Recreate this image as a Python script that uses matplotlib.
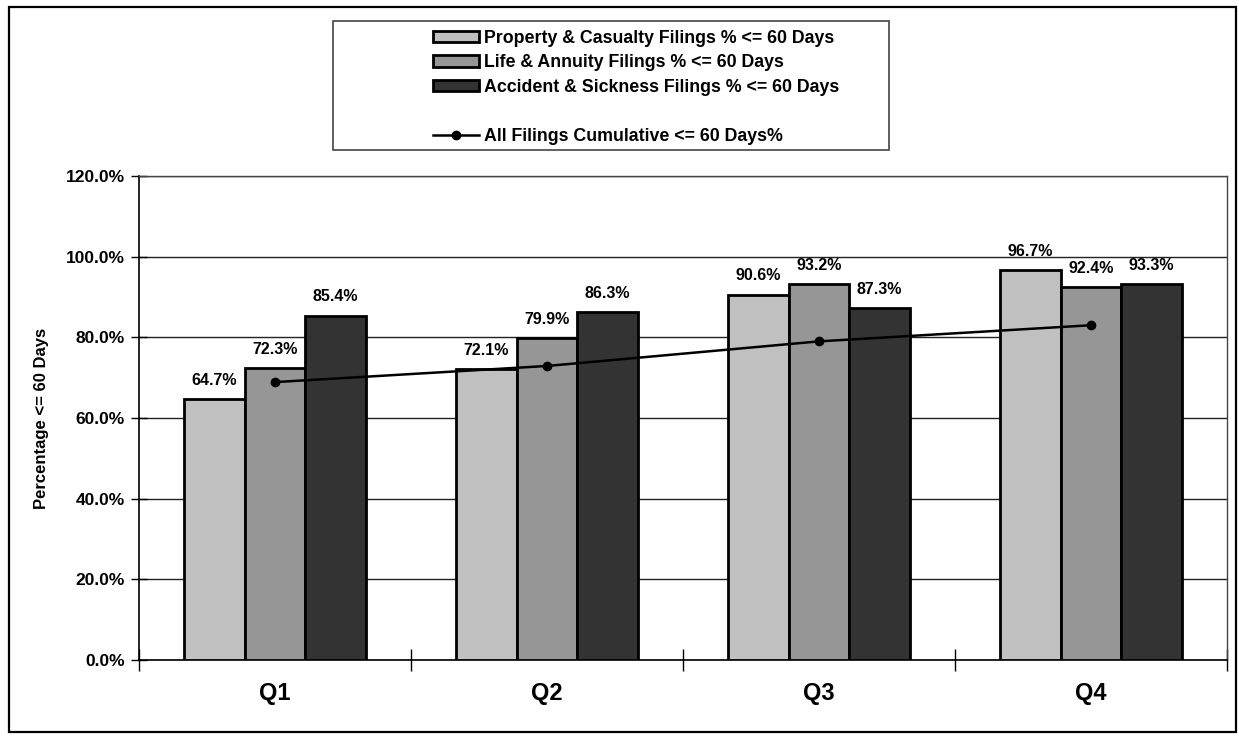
#!/usr/bin/env python3
"""Quarterly filings processed within 60 days, by line of business."""

import matplotlib
matplotlib.use("Agg")
import matplotlib.pyplot as plt
import numpy as np
from matplotlib.lines import Line2D
from matplotlib.patches import Patch, Rectangle


quarters = ["Q1", "Q2", "Q3", "Q4"]
property_casualty = [64.7, 72.1, 90.6, 96.7]
life_annuity = [72.3, 79.9, 93.2, 92.4]
accident_sickness = [85.4, 86.3, 87.3, 93.3]
all_cumulative = [68.9, 72.9, 79.0, 83.0]

series_labels = [
    "Property & Casualty Filings % <= 60 Days",
    "Life & Annuity Filings % <= 60 Days",
    "Accident & Sickness Filings % <= 60 Days",
]
line_label = "All Filings Cumulative <= 60 Days%"
y_ticks = [0, 20, 40, 60, 80, 100, 120]

plt.rcParams["font.family"] = ["Liberation Sans", "DejaVu Sans"]
plt.rcParams["font.weight"] = "bold"

W, H = 1239, 738
fig = plt.figure(figsize=(W / 100, H / 100), dpi=100)
ax = fig.add_axes([139 / W, 1 - 660 / H, (1227 - 139) / W, (660 - 176) / H])

# outer chart border
fig.patches.append(Rectangle((9 / W, 6 / H), (1236 - 9) / W, (731 - 6) / H,
                             transform=fig.transFigure, fill=False,
                             lw=1.6, ec="black"))

x = np.arange(len(quarters))
width = 1 / 4.5
colors = ["#c0c0c0", "#969696", "#333333"]
for offset, values, color, label in zip(
        (-1, 0, 1), (property_casualty, life_annuity, accident_sickness),
        colors, series_labels):
    bars = ax.bar(x + offset * width, values, width, color=color,
                  edgecolor="black", linewidth=2.0, label=label, zorder=3)
    for bar, value in zip(bars, values):
        ax.annotate(f"{value:.1f}%",
                    (bar.get_x() + bar.get_width() / 2, bar.get_height()),
                    xytext=(0, 8), textcoords="offset points",
                    ha="center", va="bottom", fontsize=11.5, weight="bold")

ax.plot(x, all_cumulative, color="black", lw=1.8, marker="o", ms=6,
        zorder=4)

ax.set_xlim(-0.5, len(quarters) - 0.5)
ax.set_ylim(0, 120)
ax.set_yticks(y_ticks)
ax.set_yticklabels([f"{v:.1f}%" for v in y_ticks], fontsize=12.5,
                   weight="bold")
ax.set_xticks(np.arange(len(quarters) + 1) - 0.5)
ax.set_xticklabels([])
ax.set_xticks(x, minor=True)
ax.set_xticklabels(quarters, minor=True, fontsize=17, weight="bold")
ax.tick_params(axis="x", which="minor", length=0, pad=16)
ax.tick_params(axis="x", which="major", direction="inout", length=16,
               width=1)
ax.tick_params(axis="y", direction="inout", length=12, width=1, pad=4)
ax.grid(axis="y", color="#222222", lw=1.0, zorder=0)
ax.set_axisbelow(True)
for side in ("top", "right"):
    ax.spines[side].set_color("#444444")
    ax.spines[side].set_linewidth(1.0)
for side in ("left", "bottom"):
    ax.spines[side].set_linewidth(1.2)

fig.text(42 / W, 1 - 418 / H, "Percentage <= 60 Days", rotation=90,
         ha="center", va="center", fontsize=12, weight="bold")

# legend box
fig.patches.append(Rectangle((333 / W, 1 - 150 / H), (889 - 333) / W,
                             (150 - 21) / H, transform=fig.transFigure,
                             fill=False, lw=1.2, ec="#444444"))
handles = [Patch(facecolor=c, edgecolor="black", linewidth=2.0)
           for c in colors]
handles.append(Line2D([], [], color="none"))
handles.append(Line2D([], [], color="black", lw=1.8, marker="o", ms=6))
labels = series_labels + ["", line_label]
fig.legend(handles, labels, loc="upper left",
           bbox_to_anchor=(424 / W, 1 - 21 / H), frameon=False,
           handlelength=2.6, handleheight=0.6,
           handletextpad=0.3, labelspacing=0.42, borderpad=0,
           prop={"weight": "bold", "size": 12.8})

fig.savefig("out.png", dpi=100, facecolor="white")
